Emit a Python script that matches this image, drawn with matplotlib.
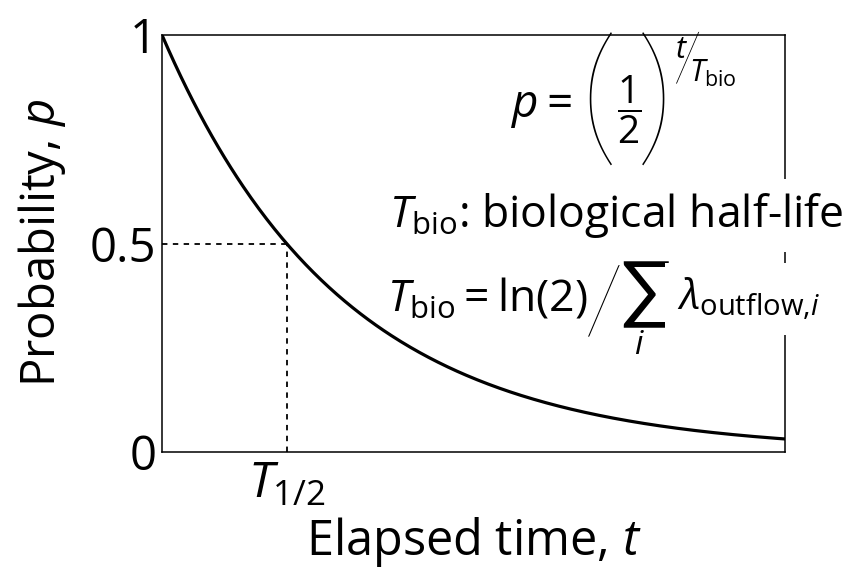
import numpy as np
import matplotlib
matplotlib.use("Agg")
from matplotlib import pyplot as plt

plt.rcParams['font.family'] = ['Open Sans', 'DejaVu Sans']
plt.rcParams['mathtext.fontset'] = 'custom'
plt.rcParams['mathtext.rm'] = 'Open Sans'
plt.rcParams['mathtext.it'] = 'Open Sans:italic'
plt.rcParams['mathtext.bf'] = 'Open Sans:bold'

# half-life and time span shown on the axis (in units of T)
t_half = 1.0
t_end = 5.0
p_half = 0.5

y_ticks = [0, 0.5, 1]
y_tick_labels = ['0', '0.5', '1']
x_ticks = [t_half]
x_tick_labels = [r'$T_{1/2}$']

# decay curve p = (1/2)^(t/T)
t = np.linspace(0, t_end, 400)
p = 0.5 ** (t / t_half)

W, H = 864, 570
fig = plt.figure(figsize=(W / 100, H / 100), dpi=100)
ax = fig.add_axes([162 / W, 1 - 452 / H, 623 / W, 417 / H])


def px(x, y):
    # pixel position (from top-left) -> figure fraction
    return x / W, 1 - y / H


ax.plot(t, p, color='black', lw=2.3)
ax.plot([0, t_half], [p_half, p_half], color='black', lw=1.3, ls=(0, (3, 3)))
ax.plot([t_half, t_half], [0, p_half], color='black', lw=1.3, ls=(0, (3, 3)))

ax.set_xlim(0, t_end)
ax.set_ylim(0, 1)
ax.set_yticks(y_ticks)
ax.set_yticklabels(y_tick_labels, fontsize=34)
ax.set_xticks(x_ticks)
ax.set_xticklabels(x_tick_labels, fontsize=36)
ax.tick_params(axis='y', length=0, pad=4)
ax.tick_params(axis='x', length=0, pad=6)
for s in ax.spines.values():
    s.set_linewidth(1.1)

ax.set_ylabel(r'Probability, $p$', fontsize=34, labelpad=16)
ax.set_xlabel(r'Elapsed time, $t$', fontsize=35, labelpad=4)

thin = dict(family=['Lato', 'DejaVu Sans'], fontweight=200)

# p = (1/2)^(t/T_bio)
fig.text(*px(511, 117), r'$p=$', fontsize=33, ha='left', va='baseline')
fig.text(*px(598, 106), '(', fontsize=110, ha='center', va='center', **thin)
fig.text(*px(655, 106), ')', fontsize=110, ha='center', va='center', **thin)
fig.text(*px(629, 110), r'$\dfrac{1}{2}$', fontsize=28, ha='center', va='center')
fig.text(*px(675, 58), r'$t$', fontsize=22, ha='left', va='baseline')
fig.text(*px(687, 62), '/', fontsize=50, ha='center', va='center', **thin)
fig.text(*px(689, 82), r'$T_{\mathrm{bio}}$', fontsize=22, ha='left', va='baseline')

# definition line
fig.text(*px(389, 227), r'$T_{\mathrm{bio}}$: biological half-life',
         fontsize=32, ha='left', va='baseline',
         bbox=dict(facecolor='white', edgecolor='none', pad=9))

# T_bio = ln(2) / sum_i lambda_outflow,i
fig.text(*px(387, 310), r'$T_{\mathrm{bio}}=\mathrm{ln}(2)$',
         fontsize=32, ha='left', va='baseline')
fig.text(*px(604, 308), '/', fontsize=68, ha='center', va='center', **thin)
fig.text(*px(646, 294), '\u2211', fontsize=54, ha='center', va='center',
         family=['Lato', 'DejaVu Sans'])
fig.text(*px(639, 354), r'$i$', fontsize=24, ha='center', va='baseline')
fig.text(*px(677, 310), r'$\lambda_{\mathrm{outflow}{,}i}$',
         fontsize=30, ha='left', va='baseline',
         bbox=dict(facecolor='white', edgecolor='none', pad=9))

fig.savefig('out.png', dpi=100)
